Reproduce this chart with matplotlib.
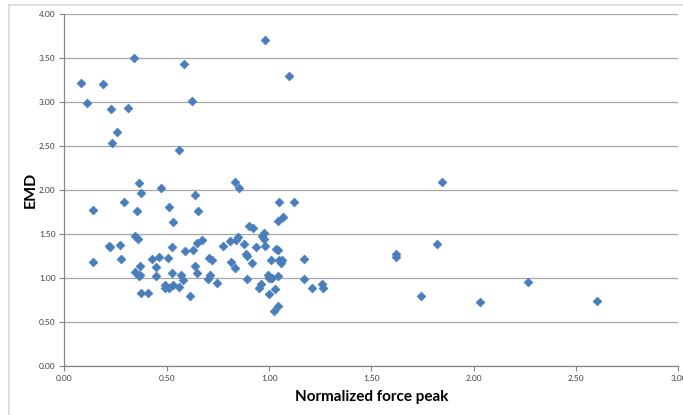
import numpy as np
import matplotlib.pyplot as plt
from matplotlib.lines import Line2D

plt.rcParams['font.family'] = ['Lato', 'DejaVu Sans']

# normalized force peak (x) vs EMD (y)
force_peak = [0.08, 0.11, 0.19, 0.225, 0.232, 0.255, 0.308, 0.339, 0.362, 0.372,
              0.473, 0.559, 0.585, 0.623, 0.639, 0.831, 0.854, 0.982, 1.095, 1.843,
              0.141, 0.291, 0.354, 0.511, 0.532, 0.652, 1.049, 1.120, 1.042, 1.067,
              0.902, 0.922, 0.218, 0.220, 0.270, 0.278, 0.137, 0.346, 0.359, 0.345,
              0.369, 0.376, 0.364, 0.371, 0.410, 0.428, 0.446, 0.449, 0.462, 0.489,
              0.491, 0.504, 0.511, 0.528, 0.524, 0.525, 0.561, 0.569, 0.577, 0.590,
              0.615, 0.626, 0.637, 0.647, 0.649, 0.670, 0.701, 0.707, 0.709, 0.720,
              0.743, 0.774, 0.811, 0.815, 0.833, 0.836, 0.847, 0.878, 0.886, 0.894,
              0.894, 0.915, 0.937, 0.948, 0.958, 0.964, 0.974, 0.974, 0.979, 0.992,
              0.997, 0.998, 1.007, 1.008, 1.016, 1.023, 1.029, 1.033, 1.041, 1.042,
              1.042, 1.049, 1.060, 1.065, 1.172, 1.171, 1.208, 1.257, 1.265, 1.618,
              1.618, 1.821, 1.740, 2.029, 2.266, 2.604]
emd = [3.22, 2.99, 3.21, 2.92, 2.54, 2.66, 2.93, 3.50, 2.085, 1.97,
       2.02, 2.46, 3.44, 3.01, 1.95, 2.09, 2.02, 3.71, 3.30, 2.09,
       1.78, 1.86, 1.76, 1.81, 1.64, 1.76, 1.864, 1.864, 1.644, 1.693,
       1.59, 1.568, 1.37, 1.356, 1.375, 1.216, 1.18, 1.477, 1.443, 1.072,
       1.136, 0.833, 1.02, 1.034, 0.833, 1.216, 1.125, 1.027, 1.239, 0.924,
       0.883, 1.231, 0.886, 0.917, 1.356, 1.061, 0.894, 1.030, 0.977, 1.311,
       0.792, 1.314, 1.133, 1.398, 1.053, 1.436, 0.985, 1.231, 1.038, 1.208,
       0.939, 1.364, 1.420, 1.186, 1.117, 1.439, 1.466, 1.390, 1.277, 1.254,
       0.992, 1.167, 1.352, 0.890, 0.936, 1.477, 1.511, 1.447, 1.367, 1.038,
       0.818, 1.004, 1.201, 1.004, 1.004, 0.629, 0.871, 1.326, 1.314, 1.019,
       0.678, 1.205, 1.167, 1.208, 1.216, 0.989, 0.890, 0.928, 0.890, 1.273,
       1.242, 1.383, 0.792, 0.723, 0.951, 0.735]

x_ticks = np.arange(0, 3.01, 0.5)
y_ticks = np.arange(0, 4.01, 0.5)

fig = plt.figure(figsize=(6.83, 4.15), dpi=100)
ax = fig.add_axes([0.0944, 0.118, 0.8990, 0.8475])

ax.scatter(force_peak, emd, marker='D', s=20, color='#4A7EBB',
           edgecolors='#4A7EBB', linewidths=0.5, zorder=3)

ax.set_xlim(0, 3)
ax.set_ylim(0, 4)
ax.set_xticks(x_ticks)
ax.set_yticks(y_ticks)
ax.xaxis.set_major_formatter(plt.FormatStrFormatter('%.2f'))
ax.yaxis.set_major_formatter(plt.FormatStrFormatter('%.2f'))
ax.tick_params(labelsize=6, colors='#404040', length=3.5, width=0.8,
               direction='out', pad=3)
ax.tick_params(axis='both', color='#868686')

ax.grid(axis='y', color='#A6A6A6', linewidth=0.9)
ax.set_axisbelow(True)
for side in ['top', 'right']:
    ax.spines[side].set_visible(False)
for side in ['left', 'bottom']:
    ax.spines[side].set_color('#868686')
    ax.spines[side].set_linewidth(0.9)

ax.set_xlabel('Normalized force peak', fontsize=11, fontweight='bold', labelpad=6)
ax.set_ylabel('EMD', fontsize=11.5, fontweight='bold', labelpad=1)

# light chart-area border along the top and left
fig.add_artist(Line2D([9 / 683, 1], [1 - 5 / 415, 1 - 5 / 415],
                      transform=fig.transFigure, color='#D9D9D9', lw=1.2))
fig.add_artist(Line2D([9 / 683, 9 / 683], [0, 1 - 5 / 415],
                      transform=fig.transFigure, color='#D9D9D9', lw=1.2))

fig.savefig('out.png', dpi=100)
